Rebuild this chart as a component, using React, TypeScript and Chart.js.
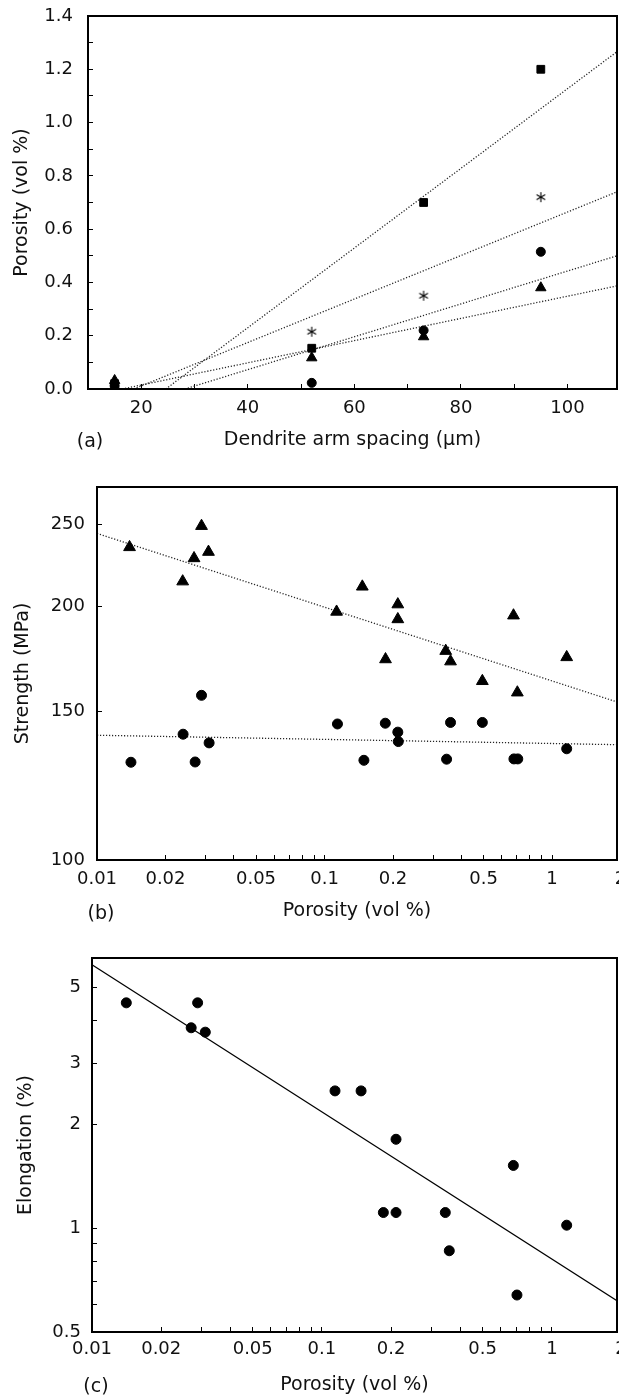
import React, { useEffect, useRef } from 'react';
import { Chart, registerables } from 'chart.js';

Chart.register(...registerables);

const FONT = "'DejaVu Sans', sans-serif";
const INK = '#111';

// ---------- Panel (a): porosity vs dendrite arm spacing ----------
const dasUm = [15, 52, 73, 95];
const poroSquare = [0.02, 0.153, 0.7, 1.2];
const poroStar = [0.012, 0.215, 0.35, 0.72];
const poroCircle = [0.012, 0.023, 0.22, 0.515];
const poroTriangle = [0.032, 0.117, 0.196, 0.38];
// dotted fit lines: start on the x axis (porosity 0) and run to the right edge
const fitStartDas = [24.6, 18.6, 28.2, 16.4]; // square, star, circle, triangle
const fitEndPoro = [1.266, 0.74, 0.5, 0.387];
const A_X_MIN = 10;
const A_X_MAX = 109.3;
const A_Y_MIN = 0;
const A_Y_MAX = 1.4;
const aXMajor = [20, 40, 60, 80, 100];
const aXLabels = ['20', '40', '60', '80', '100'];
const aXMinor = [10, 30, 50, 70, 90];
const aYMajor = [0, 0.2, 0.4, 0.6, 0.8, 1.0, 1.2, 1.4];
const aYLabels = ['0.0', '0.2', '0.4', '0.6', '0.8', '1.0', '1.2', '1.4'];
const aYMinor = [0.1, 0.3, 0.5, 0.7, 0.9, 1.1, 1.3];

// ---------- Panel (b): strength vs porosity ----------
const poroTriB = [0.0139, 0.0238, 0.0267, 0.0288, 0.0309, 0.113, 0.1466, 0.1854, 0.21, 0.21, 0.341, 0.358, 0.494, 0.677, 0.704, 1.16];
const strengthTri = [235, 214, 228, 249, 232, 197, 211, 173, 201, 193, 177, 172, 163, 195, 158, 174];
const poroCircB = [0.0141, 0.0239, 0.027, 0.0288, 0.0311, 0.114, 0.149, 0.185, 0.21, 0.211, 0.344, 0.358, 0.494, 0.68, 0.707, 1.16];
const strengthCirc = [130.6, 141, 130.7, 156.8, 137.7, 145, 131.3, 145.3, 141.8, 138.2, 131.7, 145.6, 145.6, 131.8, 131.8, 135.5];
const fitBPoro = [0.01, 2];
const fitBTri = [244, 153.5];
const fitBCirc = [140.6, 137];
const B_X_MIN = 0.01;
const B_X_MAX = 1.93;
const B_Y_MIN = 100;
const B_Y_MAX = 277;
const logXMajor = [0.01, 0.02, 0.05, 0.1, 0.2, 0.5, 1, 2];
const logXLabels = ['0.01', '0.02', '0.05', '0.1', '0.2', '0.5', '1', '2'];
const logXMinor = [0.03, 0.04, 0.06, 0.07, 0.08, 0.09, 0.3, 0.4, 0.6, 0.7, 0.8, 0.9];
const bYMajor = [100, 150, 200, 250];
const bYLabels = ['100', '150', '200', '250'];
const bYMinor: number[] = [];

// ---------- Panel (c): elongation vs porosity ----------
const poroC = [0.0141, 0.0288, 0.027, 0.0311, 0.114, 0.148, 0.21, 0.68, 0.185, 0.21, 0.344, 0.358, 1.16, 0.705];
const elongation = [4.5, 4.5, 3.81, 3.7, 2.5, 2.5, 1.81, 1.52, 1.11, 1.11, 1.11, 0.86, 1.02, 0.64];
const fitCPoro = [0.01, 2];
const fitCElong = [5.8, 0.605];
const C_X_MIN = 0.01;
const C_X_MAX = 1.92;
const C_Y_MIN = 0.5;
const C_Y_MAX = 6.07;
const cYMajor = [0.5, 1, 2, 3, 5];
const cYLabels = ['0.5', '1', '2', '3', '5'];
const cYMinor = [0.6, 0.7, 0.8, 0.9, 4];

const zip = (xs: number[], ys: number[]) => xs.map((x, i) => ({ x, y: ys[i] }));

const framePlugin = {
  id: 'frame',
  afterDatasetsDraw(chart: any) {
    const { ctx, chartArea } = chart;
    const { left, top, right, bottom } = chartArea;
    ctx.save();
    ctx.strokeStyle = '#000';
    ctx.lineWidth = 2;
    ctx.strokeRect(left, top, right - left, bottom - top);
    ctx.restore();
  },
};

function makeAsterisk(): HTMLCanvasElement {
  const size = 12;
  const c = document.createElement('canvas');
  c.width = size;
  c.height = size;
  const g = c.getContext('2d')!;
  g.strokeStyle = '#000';
  g.lineWidth = 1.1;
  const cx = size / 2;
  const cy = size / 2;
  const r = 5;
  for (let k = 0; k < 3; k++) {
    const a = Math.PI / 2 + (k * Math.PI) / 3;
    g.beginPath();
    g.moveTo(cx + r * Math.cos(a), cy + r * Math.sin(a));
    g.lineTo(cx - r * Math.cos(a), cy - r * Math.sin(a));
    g.stroke();
  }
  return c;
}

type AxisSpec = {
  type: 'linear' | 'logarithmic';
  position: 'left' | 'bottom';
  min: number;
  max: number;
  major: number[];
  labels: string[];
  minor: number[];
  size: number;
  pad: number;
  title: string;
  titlePad: number;
};

function makeAxis(o: AxisSpec) {
  const values = [...o.major, ...o.minor].sort((a, b) => a - b);
  const horiz = o.position === 'bottom';
  return {
    type: o.type,
    position: o.position,
    min: o.min,
    max: o.max,
    bounds: 'data',
    grid: {
      display: true,
      drawOnChartArea: false,
      drawTicks: true,
      tickLength: -5,
      tickColor: '#000',
      tickWidth: 1,
    },
    border: { display: false },
    ticks: {
      autoSkip: false,
      maxRotation: 0,
      minRotation: 0,
      padding: o.pad,
      color: INK,
      font: { family: FONT, size: 18 },
      callback: (v: number) => {
        const i = o.major.findIndex((m) => Math.abs(m - v) < 1e-9);
        return i >= 0 ? o.labels[i] : '';
      },
    },
    afterBuildTicks: (s: any) => {
      s.ticks = values.map((v) => ({ value: v }));
    },
    afterFit: (s: any) => {
      if (horiz) s.height = o.size;
      else s.width = o.size;
      s.paddingTop = 0;
      s.paddingBottom = 0;
      s.paddingLeft = 0;
      s.paddingRight = 0;
    },
    title: {
      display: true,
      text: o.title,
      color: INK,
      font: { family: FONT, size: 19 },
      padding: horiz ? { top: 0, bottom: o.titlePad } : { top: o.titlePad, bottom: 0 },
    },
  };
}

const CANVAS_W = 660;
const CANVAS_H = 470;
const PLOT_RIGHT = 617;

function baseOptions(top: number, x: any, y: any) {
  return {
    responsive: false,
    animation: false,
    events: [],
    layout: { padding: { top, left: 0, bottom: 0, right: CANVAS_W - PLOT_RIGHT } },
    plugins: { legend: { display: false }, tooltip: { enabled: false } },
    scales: { x, y },
  };
}

const dotted = {
  type: 'line',
  borderColor: '#262626',
  borderWidth: 1.3,
  borderDash: [1.2, 1.8],
  pointRadius: 0,
  fill: false,
  order: 10,
};

function configA(star: HTMLCanvasElement): any {
  const marker = (data: number[], style: any, radius: number) => ({
    type: 'scatter',
    data: zip(dasUm, data),
    pointStyle: style,
    pointRadius: radius,
    backgroundColor: '#000',
    borderColor: '#000',
    borderWidth: 1,
    order: 1,
  });
  const fitLine = (i: number) => ({
    ...dotted,
    data: [
      { x: fitStartDas[i], y: A_Y_MIN },
      { x: A_X_MAX, y: fitEndPoro[i] },
    ],
  });
  return {
    type: 'scatter',
    data: {
      datasets: [
        marker(poroSquare, 'rect', 5.5),
        marker(poroStar, star, 5),
        marker(poroCircle, 'circle', 4.5),
        marker(poroTriangle, 'triangle', 6),
        fitLine(0),
        fitLine(1),
        fitLine(2),
        fitLine(3),
      ],
    },
    options: baseOptions(
      16,
      makeAxis({
        type: 'linear', position: 'bottom', min: A_X_MIN, max: A_X_MAX,
        major: aXMajor, labels: aXLabels, minor: aXMinor,
        size: CANVAS_H - 389, pad: 14, title: 'Dendrite arm spacing (\u03bcm)', titlePad: 18.6,
      }),
      makeAxis({
        type: 'linear', position: 'left', min: A_Y_MIN, max: A_Y_MAX,
        major: aYMajor, labels: aYLabels, minor: aYMinor,
        size: 88, pad: 20, title: 'Porosity (vol %)', titlePad: 10.6,
      })
    ),
    plugins: [framePlugin],
  };
}

function configB(): any {
  return {
    type: 'scatter',
    data: {
      datasets: [
        {
          type: 'scatter', data: zip(poroTriB, strengthTri), pointStyle: 'triangle',
          pointRadius: 6.8, backgroundColor: '#000', borderColor: '#000', borderWidth: 1, order: 1,
        },
        {
          type: 'scatter', data: zip(poroCircB, strengthCirc), pointStyle: 'circle',
          pointRadius: 5, backgroundColor: '#000', borderColor: '#000', borderWidth: 1, order: 1,
        },
        { ...dotted, data: zip(fitBPoro, fitBTri) },
        { ...dotted, data: zip(fitBPoro, fitBCirc) },
      ],
    },
    options: baseOptions(
      17,
      makeAxis({
        type: 'logarithmic', position: 'bottom', min: B_X_MIN, max: B_X_MAX,
        major: logXMajor, labels: logXLabels, minor: logXMinor,
        size: CANVAS_H - 390, pad: 14, title: 'Porosity (vol %)', titlePad: 17.6,
      }),
      makeAxis({
        type: 'logarithmic', position: 'left', min: B_Y_MIN, max: B_Y_MAX,
        major: bYMajor, labels: bYLabels, minor: bYMinor,
        size: 97, pad: 17, title: 'Strength (MPa)', titlePad: 11.6,
      })
    ),
    plugins: [framePlugin],
  };
}

function configC(): any {
  return {
    type: 'scatter',
    data: {
      datasets: [
        {
          type: 'scatter', data: zip(poroC, elongation), pointStyle: 'circle',
          pointRadius: 5, backgroundColor: '#000', borderColor: '#000', borderWidth: 1, order: 1,
        },
        {
          type: 'line', data: zip(fitCPoro, fitCElong), borderColor: '#000', borderWidth: 1.2,
          pointRadius: 0, fill: false, order: 10,
        },
      ],
    },
    options: baseOptions(
      18,
      makeAxis({
        type: 'logarithmic', position: 'bottom', min: C_X_MIN, max: C_X_MAX,
        major: logXMajor, labels: logXLabels, minor: logXMinor,
        size: CANVAS_H - 392, pad: 12, title: 'Porosity (vol %)', titlePad: 13.6,
      }),
      makeAxis({
        type: 'logarithmic', position: 'left', min: C_Y_MIN, max: C_Y_MAX,
        major: cYMajor, labels: cYLabels, minor: cYMinor,
        size: 92, pad: 16, title: 'Elongation (%)', titlePad: 14.6,
      })
    ),
    plugins: [framePlugin],
  };
}

const canvasStyle = (top: number): React.CSSProperties => ({
  position: 'absolute',
  left: 0,
  top,
  width: CANVAS_W,
  height: CANVAS_H,
});

const tagStyle = (cx: number, cy: number): React.CSSProperties => ({
  position: 'absolute',
  left: cx,
  top: cy,
  transform: 'translate(-50%, -50%)',
  fontFamily: FONT,
  fontSize: 19,
  lineHeight: 1,
  color: INK,
  whiteSpace: 'nowrap',
});

export default function App() {
  const refA = useRef<HTMLCanvasElement>(null);
  const refB = useRef<HTMLCanvasElement>(null);
  const refC = useRef<HTMLCanvasElement>(null);

  useEffect(() => {
    const star = makeAsterisk();
    const charts = [
      new Chart(refA.current as HTMLCanvasElement, configA(star)),
      new Chart(refB.current as HTMLCanvasElement, configB()),
      new Chart(refC.current as HTMLCanvasElement, configC()),
    ];
    return () => charts.forEach((c) => c.destroy());
  }, []);

  return (
    <div
      style={{
        position: 'fixed',
        left: 0,
        top: 0,
        width: 619,
        height: 1396,
        overflow: 'hidden',
        background: '#fff',
      }}
    >
      <canvas ref={refA} width={CANVAS_W} height={CANVAS_H} style={canvasStyle(0)} />
      <canvas ref={refB} width={CANVAS_W} height={CANVAS_H} style={canvasStyle(470)} />
      <canvas ref={refC} width={CANVAS_W} height={CANVAS_H} style={canvasStyle(940)} />
      <span style={tagStyle(90, 440)}>(a)</span>
      <span style={tagStyle(101, 912)}>(b)</span>
      <span style={tagStyle(96, 1385)}>(c)</span>
    </div>
  );
}
